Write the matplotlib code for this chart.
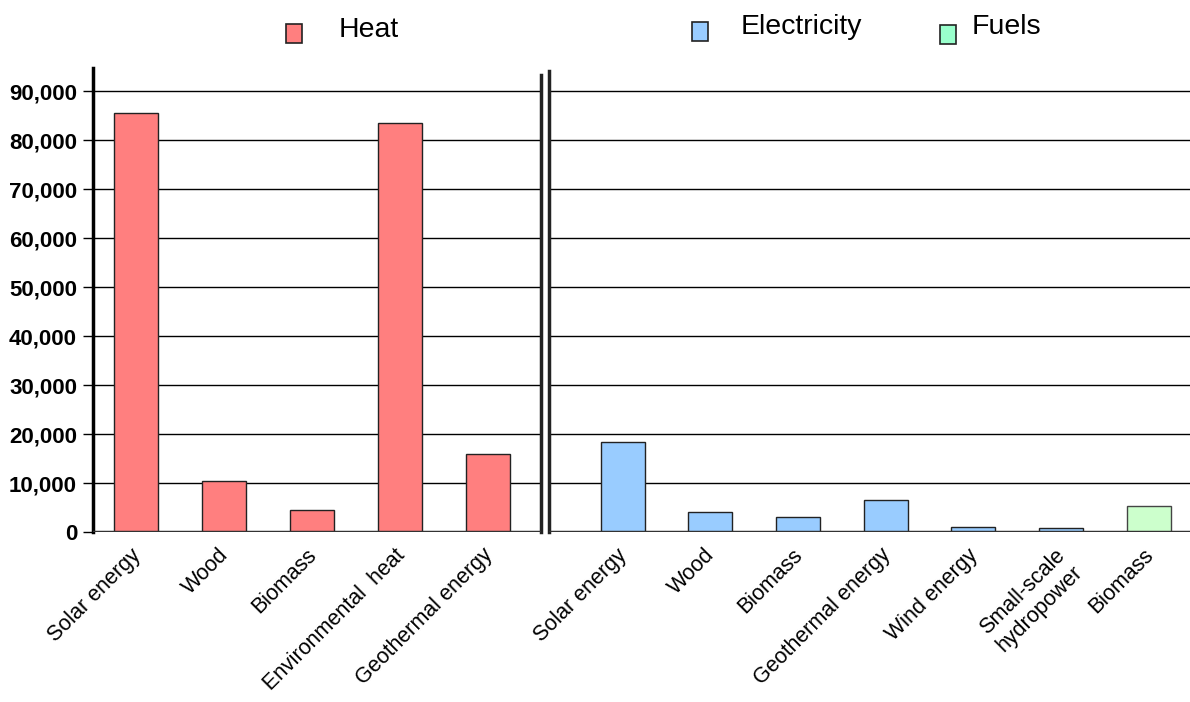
import matplotlib
matplotlib.use("Agg")
import matplotlib.pyplot as plt
import matplotlib.transforms as mtransforms
from matplotlib.patches import Rectangle
from matplotlib.ticker import FuncFormatter, MultipleLocator

plt.rcParams['font.family'] = ['Liberation Sans', 'DejaVu Sans']

heat_labels = ['Solar energy', 'Wood', 'Biomass', 'Environmental  heat', 'Geothermal energy']
heat_values = [85600, 10400, 4400, 83500, 16000]

elec_labels = ['Solar energy', 'Wood', 'Biomass', 'Geothermal energy', 'Wind energy',
               'Small-scale\nhydropower']
elec_values = [18400, 4000, 3000, 6600, 1100, 900]

fuel_labels = ['Biomass']
fuel_values = [5300]

heat_color = '#FF7F7F'
elec_color = '#99CCFF'
fuel_color = '#CCFFCC'
fuel_legend_color = '#99FFCC'
ymax = 94700

fig = plt.figure(figsize=(11.9, 7.02), dpi=100)
ax1 = fig.add_axes([93 / 1190, 170 / 702, (541 - 93) / 1190, 464 / 702])
ax2 = fig.add_axes([549 / 1190, 170 / 702, (1190 - 549) / 1190, 464 / 702])


def style_axes(ax):
    ax.set_ylim(0, ymax)
    ax.yaxis.set_major_locator(MultipleLocator(10000))
    ax.yaxis.grid(True, color='black', linewidth=1)
    ax.set_axisbelow(True)
    for s in ['top', 'bottom']:
        ax.spines[s].set_visible(False)
    ax.axhline(0, color='#333333', linewidth=2.5, zorder=4)
    ax.tick_params(axis='x', length=0, pad=9)


def shift_labels(ax, dx_px):
    off = mtransforms.ScaledTranslation(dx_px / 100, 0, fig.dpi_scale_trans)
    for lab in ax.get_xticklabels():
        lab.set_transform(lab.get_transform() + off)


# left panel: heat
x1 = range(len(heat_labels))
ax1.bar(x1, heat_values, width=0.5, color=heat_color, edgecolor='#222222', linewidth=1, zorder=3)
ax1.set_xlim(-0.49, 4.6)
style_axes(ax1)
ax1.spines['left'].set_linewidth(2.5)
ax1.spines['right'].set_linewidth(2.5)
ax1.spines['right'].set_color('#222222')
ax1.spines['right'].set_bounds(0, 93300)
ax1.yaxis.set_major_formatter(FuncFormatter(lambda v, p: f'{int(v):,}'))
ax1.tick_params(axis='y', length=7.5, width=1, pad=4, labelsize=16)
for t in ax1.yaxis.get_majorticklabels():
    t.set_fontweight('bold')
ax1.yaxis.get_major_ticks()[0].tick1line.set_markeredgewidth(2.5)
ax1.set_xticks(list(x1))
ax1.set_xticklabels(heat_labels, rotation=45, ha='right', rotation_mode='anchor', fontsize=15.5)
shift_labels(ax1, -6)

# right panel: electricity + fuels
x_elec = list(range(len(elec_labels)))
x_fuel = [len(elec_labels) + i for i in range(len(fuel_labels))]
ax2.bar(x_elec, elec_values, width=0.5, color=elec_color, edgecolor='#222222', linewidth=1, zorder=3)
ax2.bar(x_fuel, fuel_values, width=0.5, color=fuel_color, edgecolor='#444444', linewidth=1, zorder=3)
ax2.set_xlim(-0.84, 6.47)
style_axes(ax2)
ax2.spines['right'].set_visible(False)
ax2.spines['left'].set_linewidth(2.5)
ax2.spines['left'].set_color('#222222')
ax2.spines['left'].set_bounds(0, 94000)
ax2.tick_params(axis='y', length=0, labelleft=False)
ax2.set_xticks(x_elec + x_fuel)
ax2.set_xticklabels(elec_labels + fuel_labels, rotation=45, ha='right', rotation_mode='anchor',
                    fontsize=15.5, multialignment='center')
shift_labels(ax2, -6)

# legend
legend_items = [
    (286, 24, heat_color, 'Heat', 339, 37),
    (692, 22, elec_color, 'Electricity', 741, 34),
    (940, 25, fuel_legend_color, 'Fuels', 972, 34),
]
for px, py, col, label, tx, ty in legend_items:
    fig.patches.append(Rectangle((px / 1190, 1 - (py + 19) / 702), 16 / 1190, 19 / 702,
                                 transform=fig.transFigure, facecolor=col,
                                 edgecolor='#222222', linewidth=1.2))
    fig.text(tx / 1190, 1 - ty / 702, label, fontsize=20.5, va='baseline', ha='left')

fig.savefig('out.png', dpi=100)
